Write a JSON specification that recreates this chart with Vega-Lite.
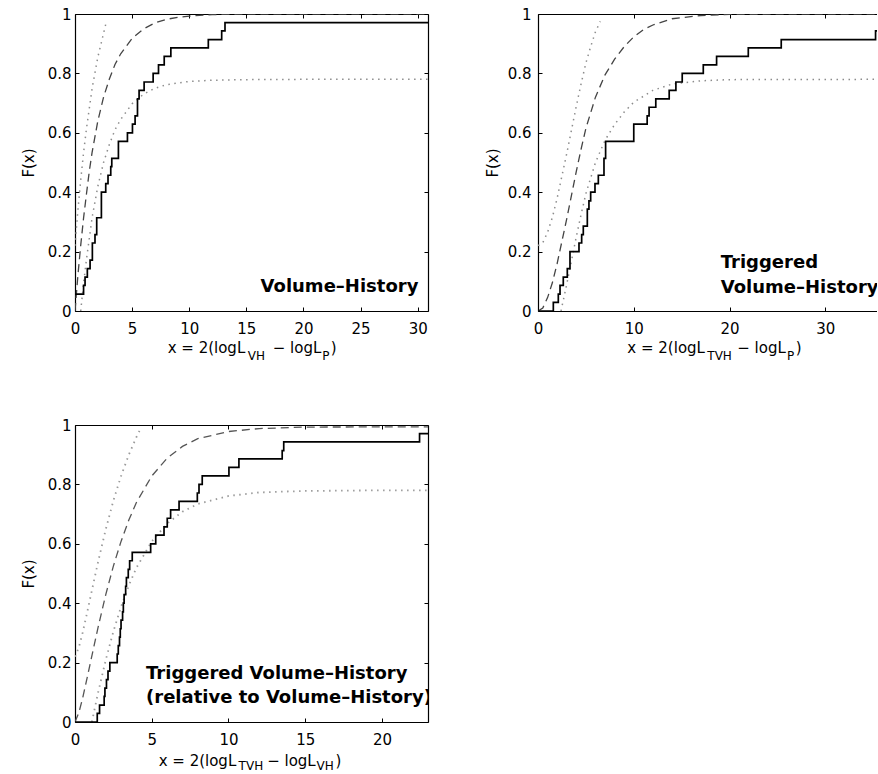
{
  "$schema": "https://vega.github.io/schema/vega-lite/v6.json",
  "autosize": {"type": "pad"},
  "padding": {"left": 21, "top": 7, "right": 0, "bottom": 0},
  "background": "white",
  "columns": 2,
  "spacing": {"row": 114, "column": 110},
  "bounds": "flush",
  "config": {
    "font": "DejaVu Sans",
    "view": {"stroke": null},
    "axis": {"grid": false, "domainColor": "#000", "domainWidth": 1.2, "tickColor": "#000", "tickSize": -4, "tickWidth": 1, "labelColor": "#000", "labelFont": "DejaVu Sans", "labelFontSize": 15, "titleFont": "DejaVu Sans", "titleFontSize": 15, "titleFontWeight": "normal", "titleColor": "#000", "labelFlush": false, "labelOverlap": false}
  },
  "datasets": {
    "p1": [
      {"s": "emp", "x": 0, "y": 0.057}, {"s": "emp", "x": 0.75, "y": 0.086}, {"s": "emp", "x": 0.88, "y": 0.114}, {"s": "emp", "x": 1.08, "y": 0.143}, {"s": "emp", "x": 1.32, "y": 0.171}, {"s": "emp", "x": 1.52, "y": 0.229}, {"s": "emp", "x": 1.75, "y": 0.257}, {"s": "emp", "x": 1.9, "y": 0.314}, {"s": "emp", "x": 2.31, "y": 0.4}, {"s": "emp", "x": 2.69, "y": 0.429}, {"s": "emp", "x": 2.89, "y": 0.457}, {"s": "emp", "x": 3.13, "y": 0.486}, {"s": "emp", "x": 3.22, "y": 0.514}, {"s": "emp", "x": 3.8, "y": 0.571}, {"s": "emp", "x": 4.59, "y": 0.6}, {"s": "emp", "x": 5.03, "y": 0.629}, {"s": "emp", "x": 5.26, "y": 0.657}, {"s": "emp", "x": 5.47, "y": 0.714}, {"s": "emp", "x": 5.61, "y": 0.743}, {"s": "emp", "x": 6.05, "y": 0.771}, {"s": "emp", "x": 6.84, "y": 0.8}, {"s": "emp", "x": 7.31, "y": 0.829}, {"s": "emp", "x": 7.81, "y": 0.857}, {"s": "emp", "x": 8.39, "y": 0.886}, {"s": "emp", "x": 11.67, "y": 0.914}, {"s": "emp", "x": 12.84, "y": 0.943}, {"s": "emp", "x": 13.13, "y": 0.971}, {"s": "emp", "x": 30.9, "y": 0.971},
      {"s": "fit", "x": 0, "y": 0}, {"s": "fit", "x": 0.25, "y": 0.118}, {"s": "fit", "x": 0.5, "y": 0.221}, {"s": "fit", "x": 0.75, "y": 0.313}, {"s": "fit", "x": 1, "y": 0.393}, {"s": "fit", "x": 1.25, "y": 0.47}, {"s": "fit", "x": 1.5, "y": 0.535}, {"s": "fit", "x": 2, "y": 0.64}, {"s": "fit", "x": 2.5, "y": 0.72}, {"s": "fit", "x": 3, "y": 0.78}, {"s": "fit", "x": 3.5, "y": 0.83}, {"s": "fit", "x": 4, "y": 0.866}, {"s": "fit", "x": 5, "y": 0.918}, {"s": "fit", "x": 6, "y": 0.95}, {"s": "fit", "x": 7, "y": 0.97}, {"s": "fit", "x": 8, "y": 0.982}, {"s": "fit", "x": 9, "y": 0.989}, {"s": "fit", "x": 10, "y": 0.993}, {"s": "fit", "x": 12, "y": 0.998}, {"s": "fit", "x": 15, "y": 0.9995}, {"s": "fit", "x": 20, "y": 1}, {"s": "fit", "x": 30.9, "y": 1},
      {"s": "up", "x": 0, "y": 0.22}, {"s": "up", "x": 0.25, "y": 0.338}, {"s": "up", "x": 0.5, "y": 0.441}, {"s": "up", "x": 0.75, "y": 0.533}, {"s": "up", "x": 1, "y": 0.613}, {"s": "up", "x": 1.5, "y": 0.75}, {"s": "up", "x": 2, "y": 0.855}, {"s": "up", "x": 2.5, "y": 0.935}, {"s": "up", "x": 2.75, "y": 0.975},
      {"s": "lo", "x": 0.5, "y": 0}, {"s": "lo", "x": 0.75, "y": 0.093}, {"s": "lo", "x": 1, "y": 0.173}, {"s": "lo", "x": 1.5, "y": 0.315}, {"s": "lo", "x": 2, "y": 0.42}, {"s": "lo", "x": 2.5, "y": 0.5}, {"s": "lo", "x": 3, "y": 0.56}, {"s": "lo", "x": 3.5, "y": 0.61}, {"s": "lo", "x": 4, "y": 0.645}, {"s": "lo", "x": 5, "y": 0.698}, {"s": "lo", "x": 6, "y": 0.73}, {"s": "lo", "x": 7, "y": 0.75}, {"s": "lo", "x": 8, "y": 0.762}, {"s": "lo", "x": 10, "y": 0.773}, {"s": "lo", "x": 12, "y": 0.777}, {"s": "lo", "x": 15, "y": 0.779}, {"s": "lo", "x": 20, "y": 0.78}, {"s": "lo", "x": 30.9, "y": 0.78}
    ],
    "p2": [
      {"s": "emp", "x": 0, "y": 0}, {"s": "emp", "x": 1.6, "y": 0.029}, {"s": "emp", "x": 2.12, "y": 0.057}, {"s": "emp", "x": 2.3, "y": 0.086}, {"s": "emp", "x": 2.64, "y": 0.114}, {"s": "emp", "x": 3.06, "y": 0.143}, {"s": "emp", "x": 3.34, "y": 0.2}, {"s": "emp", "x": 4.28, "y": 0.229}, {"s": "emp", "x": 4.56, "y": 0.257}, {"s": "emp", "x": 4.73, "y": 0.286}, {"s": "emp", "x": 5.15, "y": 0.343}, {"s": "emp", "x": 5.32, "y": 0.371}, {"s": "emp", "x": 5.5, "y": 0.4}, {"s": "emp", "x": 5.95, "y": 0.429}, {"s": "emp", "x": 6.3, "y": 0.457}, {"s": "emp", "x": 6.89, "y": 0.514}, {"s": "emp", "x": 7.06, "y": 0.571}, {"s": "emp", "x": 10.0, "y": 0.629}, {"s": "emp", "x": 11.4, "y": 0.657}, {"s": "emp", "x": 11.6, "y": 0.686}, {"s": "emp", "x": 12.3, "y": 0.714}, {"s": "emp", "x": 13.7, "y": 0.743}, {"s": "emp", "x": 14.4, "y": 0.771}, {"s": "emp", "x": 15.06, "y": 0.8}, {"s": "emp", "x": 17.26, "y": 0.829}, {"s": "emp", "x": 18.65, "y": 0.857}, {"s": "emp", "x": 21.96, "y": 0.886}, {"s": "emp", "x": 25.4, "y": 0.914}, {"s": "emp", "x": 35.25, "y": 0.943}, {"s": "emp", "x": 35.4, "y": 0.943},
      {"s": "fit", "x": 0, "y": 0}, {"s": "fit", "x": 0.5, "y": 0.01}, {"s": "fit", "x": 1, "y": 0.045}, {"s": "fit", "x": 1.5, "y": 0.095}, {"s": "fit", "x": 2, "y": 0.16}, {"s": "fit", "x": 2.5, "y": 0.235}, {"s": "fit", "x": 3, "y": 0.31}, {"s": "fit", "x": 3.5, "y": 0.39}, {"s": "fit", "x": 4, "y": 0.47}, {"s": "fit", "x": 4.5, "y": 0.545}, {"s": "fit", "x": 5, "y": 0.615}, {"s": "fit", "x": 6, "y": 0.72}, {"s": "fit", "x": 7, "y": 0.795}, {"s": "fit", "x": 8, "y": 0.848}, {"s": "fit", "x": 9, "y": 0.89}, {"s": "fit", "x": 10, "y": 0.923}, {"s": "fit", "x": 11, "y": 0.947}, {"s": "fit", "x": 12, "y": 0.963}, {"s": "fit", "x": 14, "y": 0.984}, {"s": "fit", "x": 17, "y": 0.995}, {"s": "fit", "x": 20, "y": 0.999}, {"s": "fit", "x": 35.4, "y": 1},
      {"s": "up", "x": 0, "y": 0.22}, {"s": "up", "x": 0.5, "y": 0.23}, {"s": "up", "x": 1, "y": 0.265}, {"s": "up", "x": 1.5, "y": 0.315}, {"s": "up", "x": 2, "y": 0.38}, {"s": "up", "x": 2.5, "y": 0.455}, {"s": "up", "x": 3, "y": 0.53}, {"s": "up", "x": 3.5, "y": 0.61}, {"s": "up", "x": 4, "y": 0.69}, {"s": "up", "x": 4.5, "y": 0.765}, {"s": "up", "x": 5, "y": 0.835}, {"s": "up", "x": 5.5, "y": 0.89}, {"s": "up", "x": 6, "y": 0.94}, {"s": "up", "x": 6.5, "y": 0.975},
      {"s": "lo", "x": 2.4, "y": 0}, {"s": "lo", "x": 2.5, "y": 0.015}, {"s": "lo", "x": 3, "y": 0.09}, {"s": "lo", "x": 3.5, "y": 0.17}, {"s": "lo", "x": 4, "y": 0.25}, {"s": "lo", "x": 4.5, "y": 0.325}, {"s": "lo", "x": 5, "y": 0.395}, {"s": "lo", "x": 6, "y": 0.5}, {"s": "lo", "x": 7, "y": 0.575}, {"s": "lo", "x": 8, "y": 0.628}, {"s": "lo", "x": 9, "y": 0.67}, {"s": "lo", "x": 10, "y": 0.703}, {"s": "lo", "x": 12, "y": 0.743}, {"s": "lo", "x": 14, "y": 0.764}, {"s": "lo", "x": 17, "y": 0.775}, {"s": "lo", "x": 20, "y": 0.779}, {"s": "lo", "x": 35.4, "y": 0.78}
    ],
    "p3": [
      {"s": "emp", "x": 0, "y": 0}, {"s": "emp", "x": 1.45, "y": 0.029}, {"s": "emp", "x": 1.6, "y": 0.057}, {"s": "emp", "x": 1.9, "y": 0.086}, {"s": "emp", "x": 1.95, "y": 0.114}, {"s": "emp", "x": 2.05, "y": 0.143}, {"s": "emp", "x": 2.15, "y": 0.171}, {"s": "emp", "x": 2.27, "y": 0.2}, {"s": "emp", "x": 2.75, "y": 0.229}, {"s": "emp", "x": 2.82, "y": 0.257}, {"s": "emp", "x": 2.9, "y": 0.286}, {"s": "emp", "x": 2.95, "y": 0.314}, {"s": "emp", "x": 3.0, "y": 0.343}, {"s": "emp", "x": 3.1, "y": 0.371}, {"s": "emp", "x": 3.15, "y": 0.4}, {"s": "emp", "x": 3.2, "y": 0.429}, {"s": "emp", "x": 3.3, "y": 0.457}, {"s": "emp", "x": 3.35, "y": 0.486}, {"s": "emp", "x": 3.47, "y": 0.514}, {"s": "emp", "x": 3.56, "y": 0.543}, {"s": "emp", "x": 3.73, "y": 0.571}, {"s": "emp", "x": 4.93, "y": 0.6}, {"s": "emp", "x": 5.26, "y": 0.629}, {"s": "emp", "x": 5.8, "y": 0.657}, {"s": "emp", "x": 6.01, "y": 0.686}, {"s": "emp", "x": 6.23, "y": 0.714}, {"s": "emp", "x": 6.78, "y": 0.743}, {"s": "emp", "x": 7.97, "y": 0.771}, {"s": "emp", "x": 8.08, "y": 0.8}, {"s": "emp", "x": 8.29, "y": 0.829}, {"s": "emp", "x": 10.03, "y": 0.857}, {"s": "emp", "x": 10.68, "y": 0.886}, {"s": "emp", "x": 13.5, "y": 0.914}, {"s": "emp", "x": 13.6, "y": 0.943}, {"s": "emp", "x": 22.45, "y": 0.971}, {"s": "emp", "x": 23, "y": 0.971},
      {"s": "fit", "x": 0, "y": 0}, {"s": "fit", "x": 0.25, "y": 0.031}, {"s": "fit", "x": 0.5, "y": 0.081}, {"s": "fit", "x": 0.75, "y": 0.139}, {"s": "fit", "x": 1, "y": 0.199}, {"s": "fit", "x": 1.5, "y": 0.318}, {"s": "fit", "x": 2, "y": 0.428}, {"s": "fit", "x": 2.5, "y": 0.525}, {"s": "fit", "x": 3, "y": 0.608}, {"s": "fit", "x": 3.5, "y": 0.679}, {"s": "fit", "x": 4, "y": 0.739}, {"s": "fit", "x": 5, "y": 0.828}, {"s": "fit", "x": 6, "y": 0.888}, {"s": "fit", "x": 7, "y": 0.928}, {"s": "fit", "x": 8, "y": 0.954}, {"s": "fit", "x": 10, "y": 0.978}, {"s": "fit", "x": 12, "y": 0.988}, {"s": "fit", "x": 15, "y": 0.993}, {"s": "fit", "x": 23, "y": 0.994},
      {"s": "up", "x": 0, "y": 0.22}, {"s": "up", "x": 0.25, "y": 0.251}, {"s": "up", "x": 0.5, "y": 0.301}, {"s": "up", "x": 0.75, "y": 0.359}, {"s": "up", "x": 1, "y": 0.419}, {"s": "up", "x": 1.5, "y": 0.538}, {"s": "up", "x": 2, "y": 0.648}, {"s": "up", "x": 2.5, "y": 0.745}, {"s": "up", "x": 3, "y": 0.828}, {"s": "up", "x": 3.5, "y": 0.899}, {"s": "up", "x": 4, "y": 0.959}, {"s": "up", "x": 4.2, "y": 0.98},
      {"s": "lo", "x": 1.1, "y": 0}, {"s": "lo", "x": 1.5, "y": 0.098}, {"s": "lo", "x": 2, "y": 0.208}, {"s": "lo", "x": 2.5, "y": 0.305}, {"s": "lo", "x": 3, "y": 0.388}, {"s": "lo", "x": 3.5, "y": 0.459}, {"s": "lo", "x": 4, "y": 0.519}, {"s": "lo", "x": 5, "y": 0.608}, {"s": "lo", "x": 6, "y": 0.668}, {"s": "lo", "x": 7, "y": 0.708}, {"s": "lo", "x": 8, "y": 0.734}, {"s": "lo", "x": 10, "y": 0.761}, {"s": "lo", "x": 12, "y": 0.773}, {"s": "lo", "x": 15, "y": 0.778}, {"s": "lo", "x": 20, "y": 0.78}, {"s": "lo", "x": 23, "y": 0.78}
    ]
  },
  "concat": [
    {
      "width": 353, "height": 297,
      "data": {"name": "p1"},
      "resolve": {"axis": {"x": "independent", "y": "independent"}},
      "layer": [
        {"transform": [{"filter": "datum.s == 'lo'"}],
         "mark": {"type": "line", "color": "#8c8c8c", "strokeWidth": 1.5, "strokeDash": [1.5, 4.5], "clip": true},
         "encoding": {
           "x": {"field": "x", "type": "quantitative", "scale": {"domain": [0, 30.9], "nice": false, "zero": false}, "axis": {"orient": "top", "labels": false, "title": null, "values": [0, 5, 10, 15, 20, 25, 30]}},
           "y": {"field": "y", "type": "quantitative", "scale": {"domain": [0, 1], "nice": false}, "axis": {"orient": "right", "labels": false, "title": null, "values": [0, 0.2, 0.4, 0.6, 0.8, 1]}}}},
        {"transform": [{"filter": "datum.s == 'up'"}],
         "mark": {"type": "line", "color": "#8c8c8c", "strokeWidth": 1.5, "strokeDash": [1.5, 4.5], "clip": true},
         "encoding": {
           "x": {"field": "x", "type": "quantitative", "scale": {"domain": [0, 30.9], "nice": false, "zero": false}, "axis": null},
           "y": {"field": "y", "type": "quantitative", "scale": {"domain": [0, 1], "nice": false}, "axis": null}}},
        {"transform": [{"filter": "datum.s == 'fit'"}],
         "mark": {"type": "line", "color": "#444444", "strokeWidth": 1.3, "strokeDash": [8, 5], "clip": true},
         "encoding": {
           "x": {"field": "x", "type": "quantitative", "scale": {"domain": [0, 30.9], "nice": false, "zero": false}, "axis": null},
           "y": {"field": "y", "type": "quantitative", "scale": {"domain": [0, 1], "nice": false}, "axis": null}}},
        {"transform": [{"filter": "datum.s == 'emp'"}],
         "mark": {"type": "line", "color": "#000000", "strokeWidth": 1.7, "interpolate": "step-after", "clip": true},
         "encoding": {
           "x": {"field": "x", "type": "quantitative", "scale": {"domain": [0, 30.9], "nice": false, "zero": false}, "axis": {"orient": "bottom", "title": null, "values": [0, 5, 10, 15, 20, 25, 30], "labelPadding": 14}},
           "y": {"field": "y", "type": "quantitative", "scale": {"domain": [0, 1], "nice": false}, "axis": {"orient": "left", "title": "F(x)", "values": [0, 0.2, 0.4, 0.6, 0.8, 1], "format": ".1~f", "labelPadding": 8, "titlePadding": 11}}}},
        {"data": {"values": [{}]},
         "mark": {"type": "text", "fontSize": 18, "fontWeight": "bold", "align": "center", "baseline": "alphabetic", "color": "#000"},
         "encoding": {
           "x": {"datum": 23.15, "type": "quantitative", "scale": {"domain": [0, 30.9], "nice": false, "zero": false}, "axis": null},
           "y": {"datum": 0.065, "type": "quantitative", "scale": {"domain": [0, 1], "nice": false}, "axis": null},
           "text": {"value": "Volume–History"}}},
        {"data": {"values": [{}]},
         "mark": {"type": "text", "fontSize": 15, "align": "left", "baseline": "alphabetic", "color": "#000"},
         "encoding": {
           "x": {"datum": 8.11, "type": "quantitative", "scale": {"domain": [0, 30.9], "nice": false, "zero": false}, "axis": null},
           "y": {"datum": -0.1414, "type": "quantitative", "scale": {"domain": [0, 1], "nice": false}, "axis": null},
           "text": {"value": "x = 2(logL"}}},
        {"data": {"values": [{}]},
         "mark": {"type": "text", "fontSize": 12, "align": "left", "baseline": "alphabetic", "color": "#000"},
         "encoding": {
           "x": {"datum": 15.12, "type": "quantitative", "scale": {"domain": [0, 30.9], "nice": false, "zero": false}, "axis": null},
           "y": {"datum": -0.166, "type": "quantitative", "scale": {"domain": [0, 1], "nice": false}, "axis": null},
           "text": {"value": "VH"}}},
        {"data": {"values": [{}]},
         "mark": {"type": "text", "fontSize": 15, "align": "left", "baseline": "alphabetic", "color": "#000"},
         "encoding": {
           "x": {"datum": 17.31, "type": "quantitative", "scale": {"domain": [0, 30.9], "nice": false, "zero": false}, "axis": null},
           "y": {"datum": -0.1414, "type": "quantitative", "scale": {"domain": [0, 1], "nice": false}, "axis": null},
           "text": {"value": "− logL"}}},
        {"data": {"values": [{}]},
         "mark": {"type": "text", "fontSize": 12, "align": "left", "baseline": "alphabetic", "color": "#000"},
         "encoding": {
           "x": {"datum": 21.65, "type": "quantitative", "scale": {"domain": [0, 30.9], "nice": false, "zero": false}, "axis": null},
           "y": {"datum": -0.166, "type": "quantitative", "scale": {"domain": [0, 1], "nice": false}, "axis": null},
           "text": {"value": "P"}}},
        {"data": {"values": [{}]},
         "mark": {"type": "text", "fontSize": 15, "align": "left", "baseline": "alphabetic", "color": "#000"},
         "encoding": {
           "x": {"datum": 22.38, "type": "quantitative", "scale": {"domain": [0, 30.9], "nice": false, "zero": false}, "axis": null},
           "y": {"datum": -0.1414, "type": "quantitative", "scale": {"domain": [0, 1], "nice": false}, "axis": null},
           "text": {"value": ")"}}}
      ]
    },
    {
      "width": 339, "height": 297,
      "data": {"name": "p2"},
      "resolve": {"axis": {"x": "independent", "y": "independent"}},
      "layer": [
        {"transform": [{"filter": "datum.s == 'lo'"}],
         "mark": {"type": "line", "color": "#8c8c8c", "strokeWidth": 1.5, "strokeDash": [1.5, 4.5], "clip": true},
         "encoding": {
           "x": {"field": "x", "type": "quantitative", "scale": {"domain": [0, 35.4], "nice": false, "zero": false}, "axis": {"orient": "top", "labels": false, "title": null, "values": [0, 10, 20, 30]}},
           "y": {"field": "y", "type": "quantitative", "scale": {"domain": [0, 1], "nice": false}, "axis": null}}},
        {"transform": [{"filter": "datum.s == 'up'"}],
         "mark": {"type": "line", "color": "#8c8c8c", "strokeWidth": 1.5, "strokeDash": [1.5, 4.5], "clip": true},
         "encoding": {
           "x": {"field": "x", "type": "quantitative", "scale": {"domain": [0, 35.4], "nice": false, "zero": false}, "axis": null},
           "y": {"field": "y", "type": "quantitative", "scale": {"domain": [0, 1], "nice": false}, "axis": null}}},
        {"transform": [{"filter": "datum.s == 'fit'"}],
         "mark": {"type": "line", "color": "#444444", "strokeWidth": 1.3, "strokeDash": [8, 5], "clip": true},
         "encoding": {
           "x": {"field": "x", "type": "quantitative", "scale": {"domain": [0, 35.4], "nice": false, "zero": false}, "axis": null},
           "y": {"field": "y", "type": "quantitative", "scale": {"domain": [0, 1], "nice": false}, "axis": null}}},
        {"transform": [{"filter": "datum.s == 'emp'"}],
         "mark": {"type": "line", "color": "#000000", "strokeWidth": 1.7, "interpolate": "step-after", "clip": true},
         "encoding": {
           "x": {"field": "x", "type": "quantitative", "scale": {"domain": [0, 35.4], "nice": false, "zero": false}, "axis": {"orient": "bottom", "title": null, "values": [0, 10, 20, 30], "labelPadding": 14}},
           "y": {"field": "y", "type": "quantitative", "scale": {"domain": [0, 1], "nice": false}, "axis": {"orient": "left", "title": "F(x)", "values": [0, 0.2, 0.4, 0.6, 0.8, 1], "format": ".1~f", "labelPadding": 11, "titlePadding": 7}}}},
        {"data": {"values": [{}]},
         "mark": {"type": "text", "fontSize": 18, "fontWeight": "bold", "align": "left", "baseline": "alphabetic", "color": "#000", "clip": true},
         "encoding": {
           "x": {"datum": 19.08, "type": "quantitative", "scale": {"domain": [0, 35.4], "nice": false, "zero": false}, "axis": null},
           "y": {"datum": 0.146, "type": "quantitative", "scale": {"domain": [0, 1], "nice": false}, "axis": null},
           "text": {"value": "Triggered"}}},
        {"data": {"values": [{}]},
         "mark": {"type": "text", "fontSize": 18, "fontWeight": "bold", "align": "left", "baseline": "alphabetic", "color": "#000", "clip": true},
         "encoding": {
           "x": {"datum": 19.08, "type": "quantitative", "scale": {"domain": [0, 35.4], "nice": false, "zero": false}, "axis": null},
           "y": {"datum": 0.0616, "type": "quantitative", "scale": {"domain": [0, 1], "nice": false}, "axis": null},
           "text": {"value": "Volume–History"}}},
        {"data": {"values": [{}]},
         "mark": {"type": "text", "fontSize": 15, "align": "left", "baseline": "alphabetic", "color": "#000"},
         "encoding": {
           "x": {"datum": 9.33, "type": "quantitative", "scale": {"domain": [0, 35.4], "nice": false, "zero": false}, "axis": null},
           "y": {"datum": -0.1414, "type": "quantitative", "scale": {"domain": [0, 1], "nice": false}, "axis": null},
           "text": {"value": "x = 2(logL"}}},
        {"data": {"values": [{}]},
         "mark": {"type": "text", "fontSize": 12, "align": "left", "baseline": "alphabetic", "color": "#000"},
         "encoding": {
           "x": {"datum": 17.68, "type": "quantitative", "scale": {"domain": [0, 35.4], "nice": false, "zero": false}, "axis": null},
           "y": {"datum": -0.166, "type": "quantitative", "scale": {"domain": [0, 1], "nice": false}, "axis": null},
           "text": {"value": "TVH"}}},
        {"data": {"values": [{}]},
         "mark": {"type": "text", "fontSize": 15, "align": "left", "baseline": "alphabetic", "color": "#000"},
         "encoding": {
           "x": {"datum": 20.81, "type": "quantitative", "scale": {"domain": [0, 35.4], "nice": false, "zero": false}, "axis": null},
           "y": {"datum": -0.1414, "type": "quantitative", "scale": {"domain": [0, 1], "nice": false}, "axis": null},
           "text": {"value": "− logL"}}},
        {"data": {"values": [{}]},
         "mark": {"type": "text", "fontSize": 12, "align": "left", "baseline": "alphabetic", "color": "#000"},
         "encoding": {
           "x": {"datum": 26.0, "type": "quantitative", "scale": {"domain": [0, 35.4], "nice": false, "zero": false}, "axis": null},
           "y": {"datum": -0.166, "type": "quantitative", "scale": {"domain": [0, 1], "nice": false}, "axis": null},
           "text": {"value": "P"}}},
        {"data": {"values": [{}]},
         "mark": {"type": "text", "fontSize": 15, "align": "left", "baseline": "alphabetic", "color": "#000"},
         "encoding": {
           "x": {"datum": 26.92, "type": "quantitative", "scale": {"domain": [0, 35.4], "nice": false, "zero": false}, "axis": null},
           "y": {"datum": -0.1414, "type": "quantitative", "scale": {"domain": [0, 1], "nice": false}, "axis": null},
           "text": {"value": ")"}}}
      ]
    },
    {
      "width": 353, "height": 297,
      "data": {"name": "p3"},
      "resolve": {"axis": {"x": "independent", "y": "independent"}},
      "layer": [
        {"transform": [{"filter": "datum.s == 'lo'"}],
         "mark": {"type": "line", "color": "#9a9a9a", "strokeWidth": 1.8, "strokeDash": [1.5, 4.5], "clip": true},
         "encoding": {
           "x": {"field": "x", "type": "quantitative", "scale": {"domain": [0, 23], "nice": false, "zero": false}, "axis": {"orient": "top", "labels": false, "title": null, "values": [0, 5, 10, 15, 20]}},
           "y": {"field": "y", "type": "quantitative", "scale": {"domain": [0, 1], "nice": false}, "axis": {"orient": "right", "labels": false, "title": null, "values": [0, 0.2, 0.4, 0.6, 0.8, 1]}}}},
        {"transform": [{"filter": "datum.s == 'up'"}],
         "mark": {"type": "line", "color": "#9a9a9a", "strokeWidth": 1.8, "strokeDash": [1.5, 4.5], "clip": true},
         "encoding": {
           "x": {"field": "x", "type": "quantitative", "scale": {"domain": [0, 23], "nice": false, "zero": false}, "axis": null},
           "y": {"field": "y", "type": "quantitative", "scale": {"domain": [0, 1], "nice": false}, "axis": null}}},
        {"transform": [{"filter": "datum.s == 'fit'"}],
         "mark": {"type": "line", "color": "#555555", "strokeWidth": 1.3, "strokeDash": [8, 5], "clip": true},
         "encoding": {
           "x": {"field": "x", "type": "quantitative", "scale": {"domain": [0, 23], "nice": false, "zero": false}, "axis": null},
           "y": {"field": "y", "type": "quantitative", "scale": {"domain": [0, 1], "nice": false}, "axis": null}}},
        {"transform": [{"filter": "datum.s == 'emp'"}],
         "mark": {"type": "line", "color": "#000000", "strokeWidth": 1.7, "interpolate": "step-after", "clip": true},
         "encoding": {
           "x": {"field": "x", "type": "quantitative", "scale": {"domain": [0, 23], "nice": false, "zero": false}, "axis": {"orient": "bottom", "title": null, "values": [0, 5, 10, 15, 20], "labelPadding": 14}},
           "y": {"field": "y", "type": "quantitative", "scale": {"domain": [0, 1], "nice": false}, "axis": {"orient": "left", "title": "F(x)", "values": [0, 0.2, 0.4, 0.6, 0.8, 1], "format": ".1~f", "labelPadding": 8, "titlePadding": 10.5}}}},
        {"data": {"values": [{}]},
         "mark": {"type": "text", "fontSize": 18, "fontWeight": "bold", "align": "left", "baseline": "alphabetic", "color": "#000", "clip": true},
         "encoding": {
           "x": {"datum": 4.63, "type": "quantitative", "scale": {"domain": [0, 23], "nice": false, "zero": false}, "axis": null},
           "y": {"datum": 0.144, "type": "quantitative", "scale": {"domain": [0, 1], "nice": false}, "axis": null},
           "text": {"value": "Triggered Volume–History"}}},
        {"data": {"values": [{}]},
         "mark": {"type": "text", "fontSize": 18, "fontWeight": "bold", "align": "left", "baseline": "alphabetic", "color": "#000", "clip": true},
         "encoding": {
           "x": {"datum": 4.63, "type": "quantitative", "scale": {"domain": [0, 23], "nice": false, "zero": false}, "axis": null},
           "y": {"datum": 0.063, "type": "quantitative", "scale": {"domain": [0, 1], "nice": false}, "axis": null},
           "text": {"value": "(relative to Volume–History)"}}},
        {"data": {"values": [{}]},
         "mark": {"type": "text", "fontSize": 15, "align": "left", "baseline": "alphabetic", "color": "#000"},
         "encoding": {
           "x": {"datum": 5.45, "type": "quantitative", "scale": {"domain": [0, 23], "nice": false, "zero": false}, "axis": null},
           "y": {"datum": -0.1465, "type": "quantitative", "scale": {"domain": [0, 1], "nice": false}, "axis": null},
           "text": {"value": "x = 2(logL"}}},
        {"data": {"values": [{}]},
         "mark": {"type": "text", "fontSize": 12, "align": "left", "baseline": "alphabetic", "color": "#000"},
         "encoding": {
           "x": {"datum": 10.66, "type": "quantitative", "scale": {"domain": [0, 23], "nice": false, "zero": false}, "axis": null},
           "y": {"datum": -0.1616, "type": "quantitative", "scale": {"domain": [0, 1], "nice": false}, "axis": null},
           "text": {"value": "TVH"}}},
        {"data": {"values": [{}]},
         "mark": {"type": "text", "fontSize": 15, "align": "left", "baseline": "alphabetic", "color": "#000"},
         "encoding": {
           "x": {"datum": 12.52, "type": "quantitative", "scale": {"domain": [0, 23], "nice": false, "zero": false}, "axis": null},
           "y": {"datum": -0.1465, "type": "quantitative", "scale": {"domain": [0, 1], "nice": false}, "axis": null},
           "text": {"value": "− logL"}}},
        {"data": {"values": [{}]},
         "mark": {"type": "text", "fontSize": 12, "align": "left", "baseline": "alphabetic", "color": "#000"},
         "encoding": {
           "x": {"datum": 15.74, "type": "quantitative", "scale": {"domain": [0, 23], "nice": false, "zero": false}, "axis": null},
           "y": {"datum": -0.1616, "type": "quantitative", "scale": {"domain": [0, 1], "nice": false}, "axis": null},
           "text": {"value": "VH"}}},
        {"data": {"values": [{}]},
         "mark": {"type": "text", "fontSize": 15, "align": "left", "baseline": "alphabetic", "color": "#000"},
         "encoding": {
           "x": {"datum": 16.98, "type": "quantitative", "scale": {"domain": [0, 23], "nice": false, "zero": false}, "axis": null},
           "y": {"datum": -0.1465, "type": "quantitative", "scale": {"domain": [0, 1], "nice": false}, "axis": null},
           "text": {"value": ")"}}}
      ]
    }
  ]
}
